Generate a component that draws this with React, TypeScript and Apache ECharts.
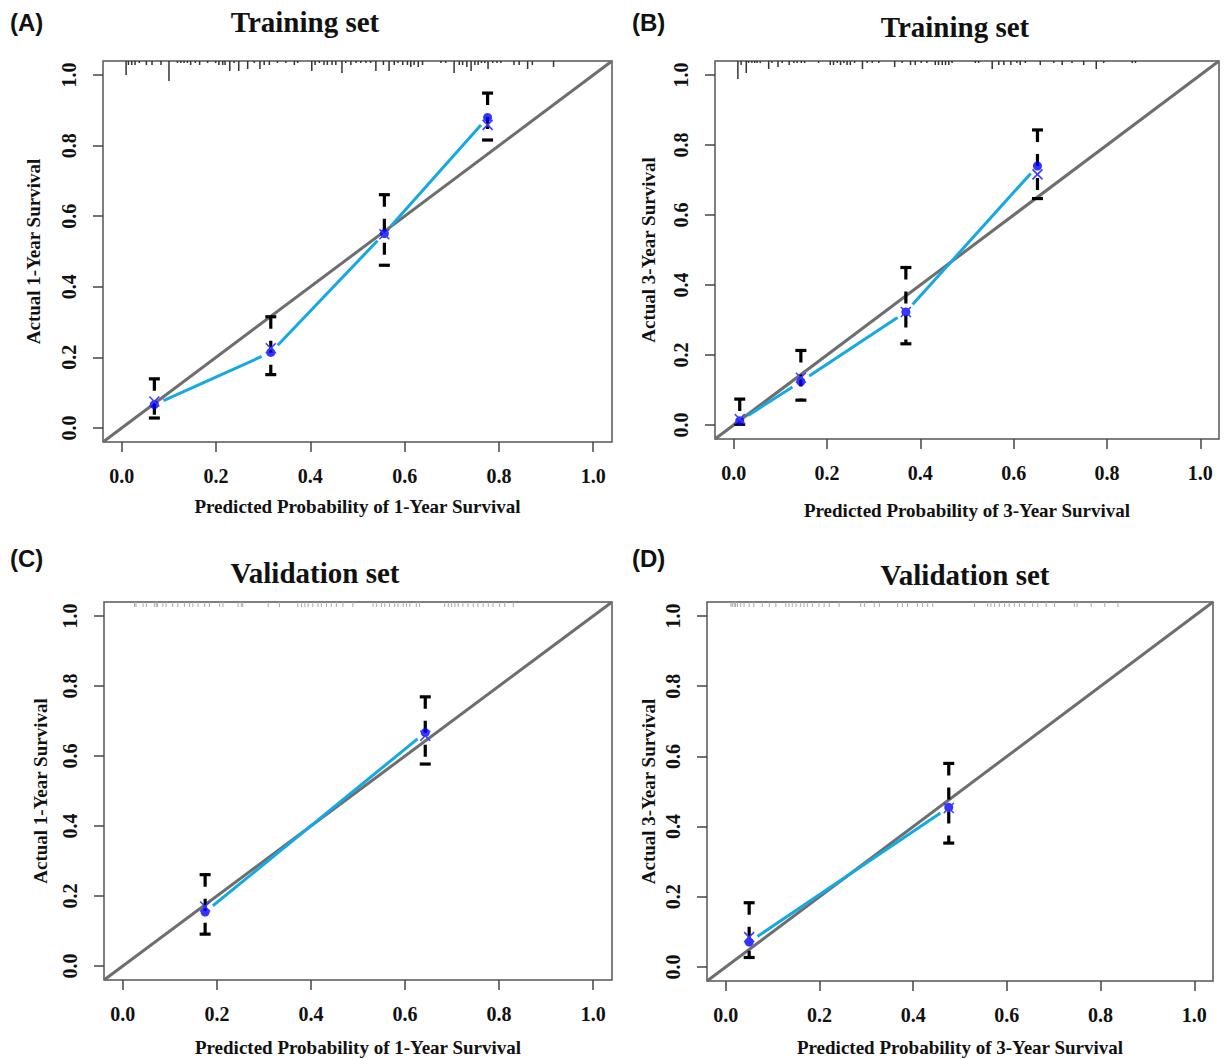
import React, { useEffect, useRef } from "react";
import * as echarts from "echarts";

// ---------- shared axis ----------
const tickValues = [0, 0.2, 0.4, 0.6, 0.8, 1.0];
const axisMin = -0.04;
const axisMax = 1.04;

// ---------- Panel A : Training set, 1-year ----------
const predA = [0.069, 0.316, 0.557, 0.776];
const obsA = [0.066, 0.214, 0.551, 0.88];
const corrA = [0.075, 0.226, 0.549, 0.859];
const loA = [0.028, 0.151, 0.461, 0.816];
const hiA = [0.139, 0.315, 0.661, 0.949];
const rugA: [number, number][] = [
  [0.009, 7], [0.014, 2], [0.021, 2], [0.028, 2], [0.037, 1], [0.052, 2], [0.064, 2], [0.083, 2],
  [0.1, 10], [0.118, 1], [0.125, 1], [0.132, 1], [0.139, 1], [0.146, 2], [0.156, 1], [0.165, 2],
  [0.182, 1], [0.199, 1], [0.206, 2], [0.214, 2], [0.219, 2], [0.229, 5], [0.238, 1], [0.248, 5],
  [0.267, 4], [0.281, 1], [0.293, 4], [0.302, 2], [0.313, 2], [0.33, 1], [0.348, 1], [0.366, 2],
  [0.373, 1], [0.403, 5], [0.41, 2], [0.419, 1], [0.429, 2], [0.436, 2], [0.446, 2], [0.454, 2],
  [0.467, 6], [0.475, 1], [0.486, 2], [0.497, 1], [0.507, 1], [0.518, 1], [0.528, 1], [0.539, 5],
  [0.555, 2], [0.567, 5], [0.578, 2], [0.586, 1], [0.596, 2], [0.606, 2], [0.613, 3], [0.62, 2],
  [0.629, 3], [0.638, 2], [0.677, 1], [0.687, 1], [0.705, 6], [0.716, 2], [0.723, 2], [0.732, 3],
  [0.741, 5], [0.749, 2], [0.756, 2], [0.763, 1], [0.77, 1], [0.777, 4], [0.787, 1], [0.796, 1],
  [0.804, 1], [0.832, 2], [0.843, 2], [0.861, 4], [0.871, 2], [0.916, 3],
];

// ---------- Panel B : Training set, 3-year ----------
const predB = [0.013, 0.144, 0.369, 0.651];
const obsB = [0.012, 0.124, 0.323, 0.74];
const corrB = [0.017, 0.135, 0.323, 0.716];
const loB = [0.002, 0.071, 0.232, 0.647];
const hiB = [0.074, 0.213, 0.45, 0.843];
const rugB: [number, number][] = [
  [0.009, 9], [0.016, 2], [0.027, 6], [0.032, 1], [0.039, 1], [0.045, 1], [0.05, 1], [0.057, 1],
  [0.075, 4], [0.082, 1], [0.095, 3], [0.104, 1], [0.119, 2], [0.129, 1], [0.136, 1], [0.145, 1],
  [0.152, 1], [0.182, 1], [0.207, 2], [0.214, 2], [0.222, 1], [0.229, 2], [0.236, 1], [0.243, 2],
  [0.25, 2], [0.259, 1], [0.276, 4], [0.286, 1], [0.297, 1], [0.311, 1], [0.345, 3], [0.361, 1],
  [0.379, 2], [0.389, 2], [0.402, 1], [0.414, 1], [0.432, 2], [0.439, 2], [0.447, 2], [0.454, 2],
  [0.461, 2], [0.468, 1], [0.518, 1], [0.525, 1], [0.554, 4], [0.568, 2], [0.579, 2], [0.594, 2],
  [0.607, 1], [0.614, 2], [0.625, 1], [0.657, 2], [0.686, 1], [0.704, 2], [0.725, 1], [0.75, 2],
  [0.777, 4], [0.793, 1], [0.854, 1], [0.861, 1],
];

// ---------- Panel C : Validation set, 1-year ----------
const predC = [0.175, 0.643];
const obsC = [0.154, 0.667];
const corrC = [0.17, 0.658];
const loC = [0.091, 0.577];
const hiC = [0.261, 0.769];
const rugC = [
  0.025, 0.028, 0.043, 0.05, 0.067, 0.071, 0.074, 0.085, 0.092, 0.106, 0.117, 0.131, 0.142, 0.149,
  0.16, 0.174, 0.184, 0.206, 0.213, 0.245, 0.252, 0.255, 0.309, 0.333, 0.372, 0.38, 0.387, 0.394,
  0.404, 0.415, 0.422, 0.433, 0.443, 0.454, 0.468, 0.489, 0.532, 0.539, 0.55, 0.557, 0.567, 0.578,
  0.585, 0.596, 0.603, 0.61, 0.624, 0.631, 0.684, 0.692, 0.699, 0.706, 0.713, 0.723, 0.734, 0.745,
  0.755, 0.766, 0.777, 0.787, 0.801, 0.812, 0.83,
];

// ---------- Panel D : Validation set, 3-year ----------
const predD = [0.05, 0.476];
const obsD = [0.071, 0.455];
const corrD = [0.085, 0.453];
const loD = [0.027, 0.353];
const hiD = [0.183, 0.58];
const rugD = [
  0.011, 0.014, 0.018, 0.021, 0.025, 0.032, 0.039, 0.05, 0.06, 0.078, 0.093, 0.107, 0.128, 0.135,
  0.142, 0.15, 0.16, 0.167, 0.174, 0.185, 0.199, 0.21, 0.221, 0.242, 0.288, 0.296, 0.317, 0.328,
  0.367, 0.377, 0.388, 0.409, 0.42, 0.431, 0.442, 0.531, 0.559, 0.566, 0.574, 0.584, 0.595, 0.605,
  0.616, 0.627, 0.638, 0.655, 0.666, 0.684, 0.702, 0.744, 0.75, 0.78, 0.809, 0.837,
];

// ---------- texts ----------
const titles = ["Training set", "Training set", "Validation set", "Validation set"];
const letters = ["(A)", "(B)", "(C)", "(D)"];
const xNames = [
  "Predicted Probability of 1-Year Survival",
  "Predicted Probability of 3-Year Survival",
  "Predicted Probability of 1-Year Survival",
  "Predicted Probability of 3-Year Survival",
];
const yNames = [
  "Actual 1-Year Survival",
  "Actual 3-Year Survival",
  "Actual 1-Year Survival",
  "Actual 3-Year Survival",
];

// ---------- layout / style ----------
const SERIF = "'Liberation Serif', 'Times New Roman', serif";
const SANS = "'Liberation Sans', Arial, sans-serif";
const CYAN = "#14a9e2";
const BLUE = "#0000ff";
const XBLUE = "#3a3aff";

const layouts = [
  { left: 103, top: 61, width: 509, height: 381, xGap: 55, yGap: 60, title: [305, 22], letter: [10, 22], rugColor: "#333", rugW: 1.5, rugK: 2 },
  { left: 715, top: 61, width: 504, height: 378, xGap: 62, yGap: 57, title: [955, 27], letter: [632, 22], rugColor: "#333", rugW: 1.5, rugK: 2 },
  { left: 104, top: 602, width: 508, height: 378, xGap: 58, yGap: 54, title: [315, 573], letter: [10, 558], rugColor: "#aaa", rugW: 1, rugK: 5 },
  { left: 707, top: 602, width: 506, height: 379, xGap: 57, yGap: 49, title: [965, 575], letter: [632, 558], rugColor: "#aaa", rugW: 1, rugK: 5 },
];

const panelData = [
  { pred: predA, obs: obsA, corr: corrA, lo: loA, hi: hiA, rug: rugA },
  { pred: predB, obs: obsB, corr: corrB, lo: loB, hi: hiB, rug: rugB },
  { pred: predC, obs: obsC, corr: corrC, lo: loC, hi: hiC, rug: rugC.map((v) => [v, 1] as [number, number]) },
  { pred: predD, obs: obsD, corr: corrD, lo: loD, hi: hiD, rug: rugD.map((v) => [v, 1] as [number, number]) },
];

function buildOption() {
  const grid: any[] = [];
  const xAxis: any[] = [];
  const yAxis: any[] = [];
  const series: any[] = [];
  const graphic: any[] = [];

  layouts.forEach((L, i) => {
    const D = panelData[i];
    grid.push({
      left: L.left,
      top: L.top,
      width: L.width,
      height: L.height,
      show: true,
      borderColor: "#555",
      borderWidth: 1.5,
      backgroundColor: "transparent",
      containLabel: false,
    });
    const axisCommon = {
      type: "value",
      min: axisMin,
      max: axisMax,
      gridIndex: i,
      splitLine: { show: false },
      axisLine: { show: false, onZero: false },
      axisTick: { show: true, length: 10, customValues: tickValues, lineStyle: { color: "#444", width: 1.5 } },
      axisLabel: {
        customValues: tickValues,
        formatter: (v: number) => v.toFixed(1),
        fontFamily: SERIF,
        fontWeight: "bold",
        fontSize: 20,
        color: "#111",
        margin: 24,
      },
      nameLocation: "middle",
      nameTextStyle: { fontFamily: SERIF, fontWeight: "bold", fontSize: 19, color: "#111" },
    };
    xAxis.push({ ...axisCommon, name: xNames[i], nameGap: L.xGap });
    yAxis.push({
      ...axisCommon,
      name: yNames[i],
      nameGap: L.yGap,
      nameRotate: 90,
      axisLabel: { ...axisCommon.axisLabel, rotate: 90 },
    });

    const idx = { xAxisIndex: i, yAxisIndex: i };

    // reference diagonal
    series.push({
      type: "line",
      ...idx,
      data: [[axisMin, axisMin], [axisMax, axisMax]],
      symbol: "none",
      lineStyle: { color: "#6e6e6e", width: 3 },
      z: 1,
    });

    // observed line (type = "b", gaps around points)
    const segs: number[][] = [];
    for (let k = 0; k < D.pred.length - 1; k++) {
      segs.push([D.pred[k], D.obs[k], D.pred[k + 1], D.obs[k + 1]]);
    }
    series.push({
      type: "custom",
      ...idx,
      data: segs,
      encode: { x: [0, 2], y: [1, 3] },
      z: 2,
      renderItem: (_p: any, api: any) => {
        const p1 = api.coord([api.value(0), api.value(1)]);
        const p2 = api.coord([api.value(2), api.value(3)]);
        const dx = p2[0] - p1[0];
        const dy = p2[1] - p1[1];
        const len = Math.hypot(dx, dy) || 1;
        const ux = dx / len;
        const uy = dy / len;
        const g = 10;
        return {
          type: "line",
          shape: { x1: p1[0] + ux * g, y1: p1[1] + uy * g, x2: p2[0] - ux * g, y2: p2[1] - uy * g },
          style: { stroke: CYAN, lineWidth: 3, lineCap: "butt" },
        };
      },
    });

    // error bars
    series.push({
      type: "custom",
      ...idx,
      data: D.pred.map((x, k) => [x, D.lo[k], D.hi[k]]),
      encode: { x: 0, y: [1, 2] },
      z: 3,
      renderItem: (_p: any, api: any) => {
        const top = api.coord([api.value(0), api.value(2)]);
        const bot = api.coord([api.value(0), api.value(1)]);
        const st = { stroke: "#000", lineWidth: 3.2 };
        return {
          type: "group",
          children: [
            { type: "line", shape: { x1: top[0], y1: top[1], x2: bot[0], y2: bot[1] }, style: { ...st, lineDash: [12, 12] } },
            { type: "line", shape: { x1: top[0] - 5.5, y1: top[1], x2: top[0] + 5.5, y2: top[1] }, style: st },
            { type: "line", shape: { x1: bot[0] - 5.5, y1: bot[1], x2: bot[0] + 5.5, y2: bot[1] }, style: st },
          ],
        };
      },
    });

    // observed points
    series.push({
      type: "scatter",
      ...idx,
      data: D.pred.map((x, k) => [x, D.obs[k]]),
      symbol: "circle",
      symbolSize: 9,
      itemStyle: { color: BLUE },
      z: 4,
    });

    // bias-corrected "x"
    series.push({
      type: "custom",
      ...idx,
      data: D.pred.map((x, k) => [x, D.corr[k]]),
      encode: { x: 0, y: 1 },
      z: 5,
      renderItem: (_p: any, api: any) => {
        const c = api.coord([api.value(0), api.value(1)]);
        const h = 5;
        const st = { stroke: XBLUE, lineWidth: 1.5 };
        return {
          type: "group",
          children: [
            { type: "line", shape: { x1: c[0] - h, y1: c[1] - h, x2: c[0] + h, y2: c[1] + h }, style: st },
            { type: "line", shape: { x1: c[0] - h, y1: c[1] + h, x2: c[0] + h, y2: c[1] - h }, style: st },
          ],
        };
      },
    });

    // rug of predicted probabilities at top
    series.push({
      type: "custom",
      ...idx,
      data: D.rug,
      encode: { x: 0 },
      z: 6,
      clip: false,
      renderItem: (_p: any, api: any) => {
        const c = api.coord([api.value(0), axisMax]);
        const len = api.value(1) * L.rugK;
        return {
          type: "line",
          shape: { x1: c[0], y1: c[1], x2: c[0], y2: c[1] + len },
          style: { stroke: L.rugColor, lineWidth: L.rugW },
        };
      },
    });

    graphic.push({
      type: "text",
      x: L.title[0],
      y: L.title[1],
      style: {
        text: titles[i],
        fontFamily: SERIF,
        fontWeight: "bold",
        fontSize: 29,
        fill: "#111",
        align: "center",
        verticalAlign: "middle",
      },
    });
    graphic.push({
      type: "text",
      x: L.letter[0],
      y: L.letter[1],
      style: {
        text: letters[i],
        fontFamily: SANS,
        fontWeight: "bold",
        fontSize: 24,
        fill: "#111",
        align: "left",
        verticalAlign: "middle",
      },
    });
  });

  return {
    animation: false,
    backgroundColor: "#fff",
    grid,
    xAxis,
    yAxis,
    series,
    graphic,
  };
}

export default function App() {
  const ref = useRef<HTMLDivElement>(null);
  useEffect(() => {
    if (!ref.current) return;
    const chart = echarts.init(ref.current, undefined, { renderer: "svg" });
    chart.setOption(buildOption() as any);
    return () => chart.dispose();
  }, []);
  return (
    <div
      ref={ref}
      style={{ position: "absolute", left: 0, top: 0, width: 1225, height: 1059 }}
    />
  );
}
